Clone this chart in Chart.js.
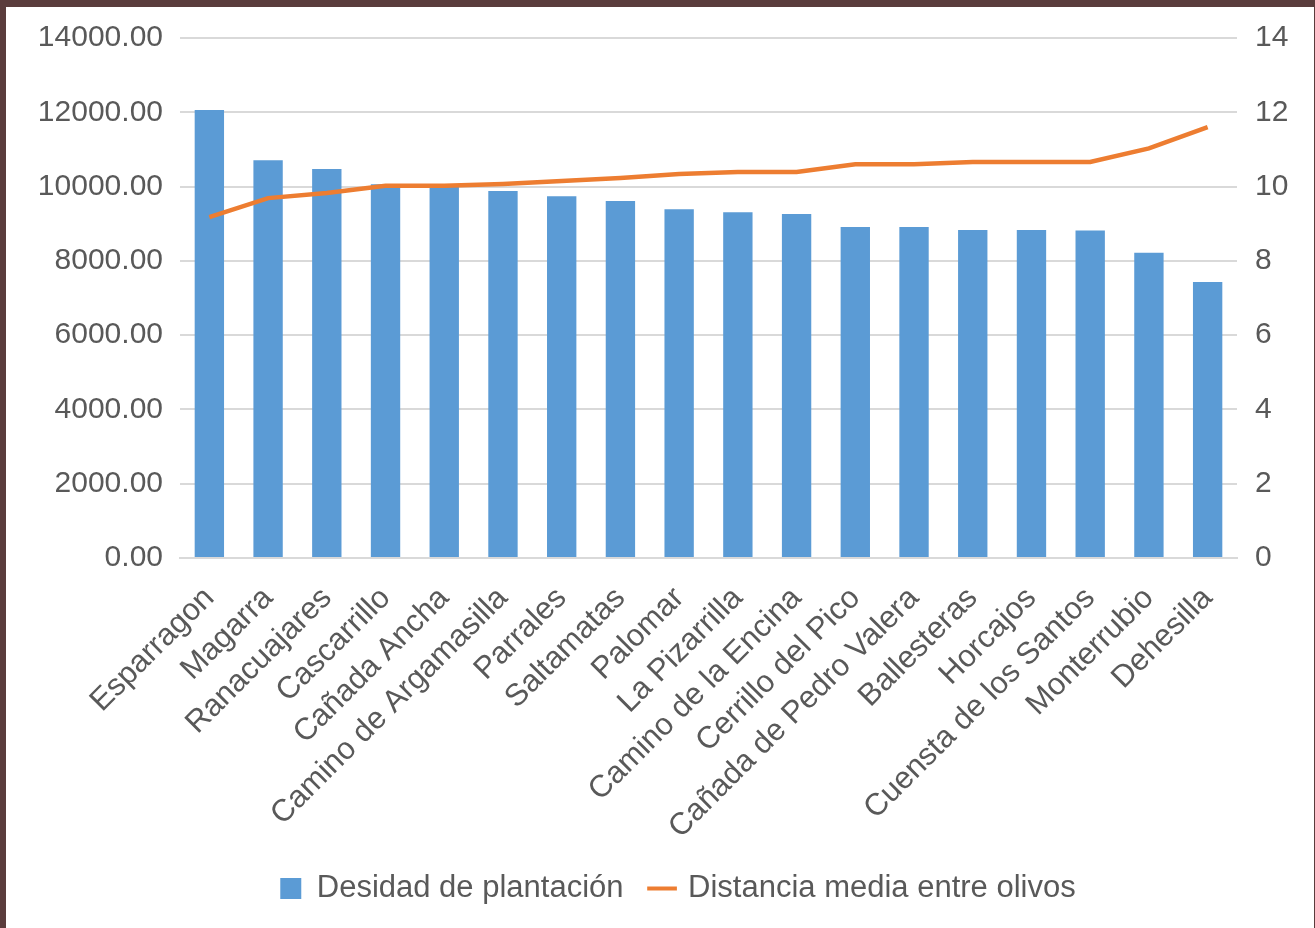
<!DOCTYPE html>
<html><head><meta charset="utf-8">
<script src="https://cdn.jsdelivr.net/npm/chart.js@4/dist/chart.umd.min.js"></script>
<style>
html,body{margin:0;padding:0;background:#5a3c3c;width:1315px;height:928px;overflow:hidden;}
#wrap{position:absolute;left:6px;top:7px;width:1308px;height:921px;background:#fff;}
canvas{display:block;}
</style></head><body>
<div id="wrap"><canvas id="c" width="1308" height="921"></canvas></div>
<script>
const categories = ["Esparragon","Magarra","Ranacuajares","Cascarrillo","Cañada Ancha","Camino de Argamasilla","Parrales","Saltamatas","Palomar","La Pizarrilla","Camino de la Encina","Cerrillo del Pico","Cañada de Pedro Valera","Ballesteras","Horcajos","Cuensta de los Santos","Monterrubio","Dehesilla"];
const densidad = [12060,10710,10470,10060,10010,9880,9740,9610,9390,9310,9260,8910,8910,8830,8830,8820,8220,7430];
const distancia = [9.18,9.69,9.83,10.02,10.02,10.07,10.15,10.23,10.34,10.39,10.39,10.6,10.6,10.66,10.66,10.66,11.03,11.6];
const seriesNames = ["Desidad de plantación","Distancia media entre olivos"];
const leftTicks = [0,2000,4000,6000,8000,10000,12000,14000];
const rightTicks = [0,2,4,6,8,10,12,14];

const txt = '#595959';
const fam = '"Liberation Sans", Arial, sans-serif';
const font = {family:fam, size:30};
const shiftLegend = {id:'shiftLegend', afterLayout(chart){ const l=chart.legend; if(l){ l.left+=18; l.right+=18; } }};
new Chart(document.getElementById('c'), {
  plugins:[shiftLegend],
  data:{
    labels:categories,
    datasets:[
      {type:'line', label:seriesNames[1], data:distancia, yAxisID:'y1', borderColor:'#ED7D31', backgroundColor:'#ED7D31', borderWidth:4.5, pointRadius:0, tension:0, pointStyle:'line', order:0},
      {type:'bar', label:seriesNames[0], data:densidad, yAxisID:'y', backgroundColor:'#5B9BD5', borderWidth:0, barPercentage:0.5, categoryPercentage:1, pointStyle:'rect', order:1}
    ]
  },
  options:{
    responsive:false, animation:false,
    layout:{padding:{top:31,left:0,right:0,bottom:14}},
    plugins:{
      tooltip:{enabled:false},
      legend:{position:'bottom', reverse:true,
        labels:{color:txt, font:{family:fam,size:31}, usePointStyle:true, boxWidth:21, boxHeight:21, padding:28,
          generateLabels(chart){
            const items = Chart.defaults.plugins.legend.labels.generateLabels(chart);
            items.forEach(it=>{
              const ds = chart.data.datasets[it.datasetIndex];
              it.pointStyle = ds.pointStyle; it.lineWidth = ds.type==='line'?4:0;
              it.strokeStyle = ds.borderColor || ds.backgroundColor; it.fillStyle = ds.backgroundColor;
            });
            return items;
          }}}
    },
    scales:{
      x:{grid:{display:false, drawTicks:false}, border:{color:'#d9d9d9', width:2},
        afterFit(s){s.height -= 23;},
        ticks:{color:txt, font:{family:fam,size:31}, minRotation:45, maxRotation:45, autoSkip:false, padding:22}},
      y:{position:'left', min:0, max:14000, afterBuildTicks(s){s.ticks=leftTicks.map(v=>({value:v}));},
        afterFit(s){s.width=174; s.paddingTop=0; s.paddingBottom=0;},
        grid:{color:'#d9d9d9', lineWidth:2, drawTicks:false}, border:{display:false},
        ticks:{color:txt, font:font, padding:17, callback:v=>Number(v).toFixed(2)}},
      y1:{position:'right', min:0, max:14, afterBuildTicks(s){s.ticks=rightTicks.map(v=>({value:v}));},
        afterFit(s){s.width=77; s.paddingTop=0; s.paddingBottom=0;},
        grid:{display:false, drawTicks:false}, border:{display:false},
        ticks:{color:txt, font:font, padding:18}}
    }
  }
});
</script>
</body></html>
